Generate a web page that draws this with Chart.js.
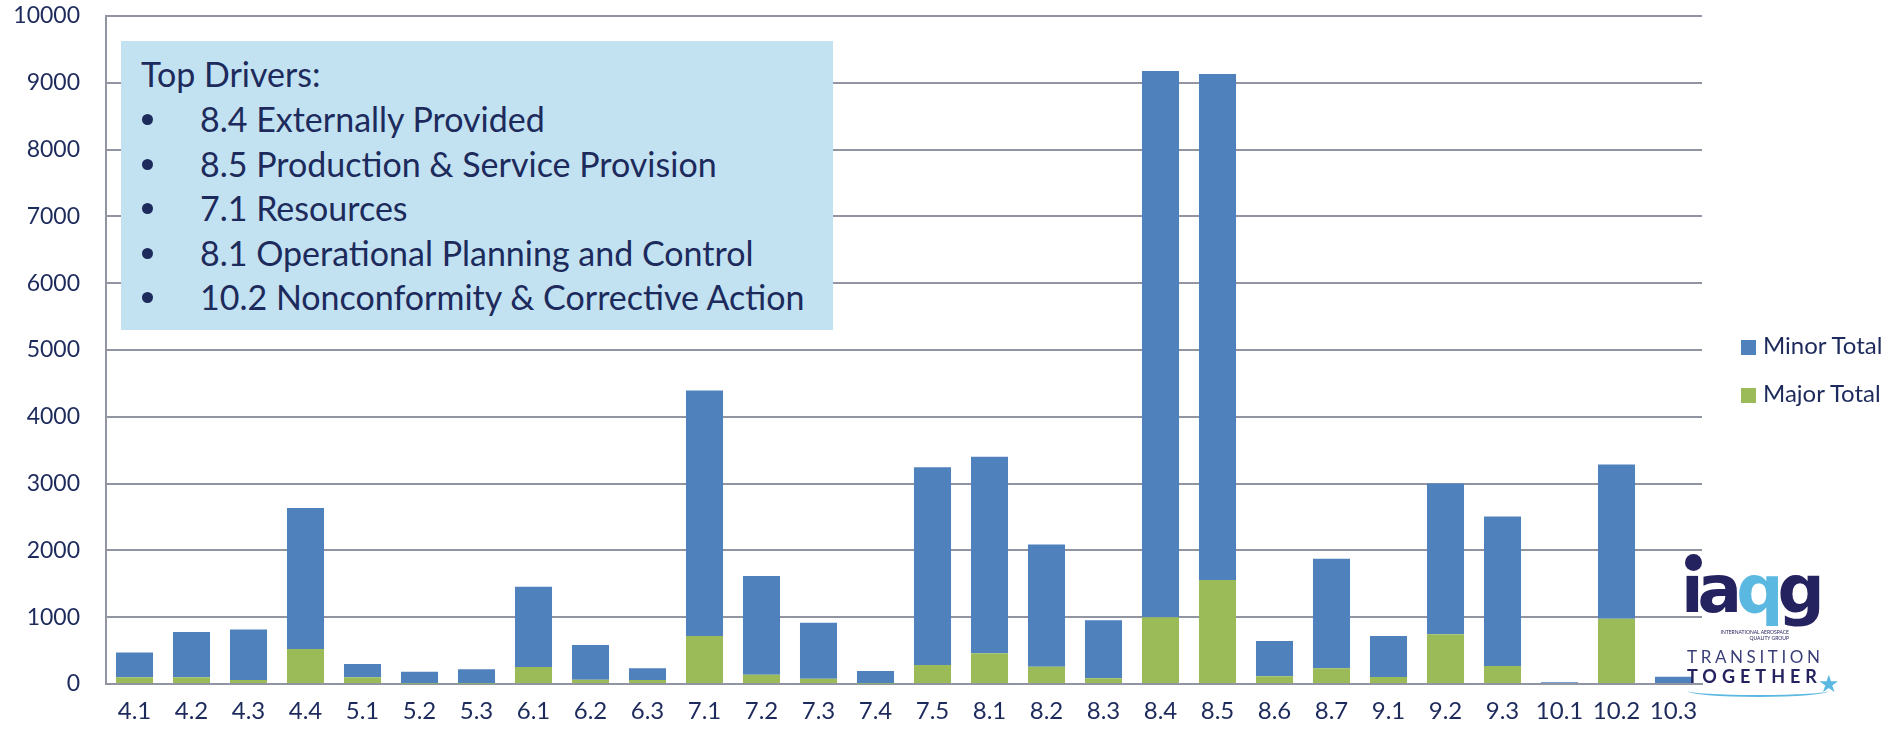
<!DOCTYPE html>
<html>
<head>
<meta charset="utf-8">
<script src="https://cdn.jsdelivr.net/npm/chart.js@4.4.1/dist/chart.umd.min.js"></script>
<style>
  html, body { margin: 0; padding: 0; background: #fff; }
  #wrap { position: relative; width: 1893px; height: 731px; overflow: hidden; font-family: Lato, 'Noto Sans', sans-serif; color: #1d2a5c; }
  #chart { position: absolute; left: 0; top: 0; }
  .drivers { position: absolute; left: 121px; top: 41px; width: 712px; height: 289px; background: #c2e2f1; }
  .drivers .title { position: absolute; left: 20px; top: 11px; height: 44.5px; line-height: 44.5px; font-size: 34px; white-space: nowrap; }
  .drivers ul { position: absolute; left: 0; top: 56px; margin: 0; padding: 0; list-style: none; }
  .drivers li { position: relative; height: 44.5px; line-height: 44.5px; font-size: 34px; padding-left: 79px; white-space: nowrap; }
  .drivers li::before { content: ''; position: absolute; left: 21px; top: 17px; width: 11px; height: 11px; border-radius: 50%; background: #1d2a5c; }
  .legend { position: absolute; left: 1741px; top: 328px; }
  .legend div { height: 48px; line-height: 34px; font-size: 24px; white-space: nowrap; }
  .legend span.box { display: inline-block; width: 15px; height: 15px; margin-right: 7px; vertical-align: -1px; }
  .logo { position: absolute; left: 1680px; top: 550px; width: 170px; height: 150px; }
  .logo .dot { position: absolute; left: 5px; top: 4px; width: 17px; height: 17px; border-radius: 50%; background: #25235f; }
  .logo .word { position: absolute; left: 1px; top: 2px; font-family: 'DejaVu Sans', sans-serif; font-weight: bold; font-size: 66px; letter-spacing: -6px; color: #25235f; line-height: 76px; }
  .logo .word .q { color: #5bb8e0; }
  .logo .small { position: absolute; left: 14px; top: 79px; font-size: 5px; color: #25235f; line-height: 6px; text-align: right; width: 95px; }
  .logo .t1 { position: absolute; left: 7px; top: 96px; font-size: 17px; letter-spacing: 3.6px; color: #3a3f78; }
  .logo .t2 { position: absolute; left: 7px; top: 115px; font-size: 18px; font-weight: bold; letter-spacing: 5px; color: #25235f; }
  .logo .swoosh { position: absolute; left: 8px; top: 135px; width: 140px; height: 10px; border-bottom: 2px solid #5bb8e0; border-radius: 0 0 60% 60%; }
  .logo .star { position: absolute; left: 138px; top: 118px; font-size: 24px; color: #5bb8e0; }
</style>
</head>
<body>
<div id="wrap">
  <canvas id="chart" width="1893" height="731"></canvas>
  <div class="drivers">
    <div class="title" id="driversTitle"></div>
    <ul id="driversList"></ul>
  </div>
  <div class="legend" id="legend"></div>
  <div class="logo">
    <div class="dot"></div>
    <div class="word"><span>&#x131;a</span><span class="q">q</span><span>g</span></div>
    <div class="small">INTERNATIONAL AEROSPACE<br>QUALITY GROUP</div>
    <div class="t1">TRANSITION</div>
    <div class="t2">TOGETHER</div>
    <div class="swoosh"></div>
    <div class="star">&#9733;</div>
  </div>
</div>
<script>
'use strict';

// Clause numbers along the x axis
const categories = ['4.1', '4.2', '4.3', '4.4', '5.1', '5.2', '5.3', '6.1', '6.2', '6.3',
  '7.1', '7.2', '7.3', '7.4', '7.5', '8.1', '8.2', '8.3', '8.4', '8.5', '8.6', '8.7',
  '9.1', '9.2', '9.3', '10.1', '10.2', '10.3'];

// Findings per clause
const majorTotals = [100, 100, 60, 525, 100, 5, 5, 255, 65, 60,
  720, 140, 80, 5, 285, 460, 260, 85, 1000, 1557, 115, 235,
  105, 745, 270, 0, 975, 0];
const minorTotals = [370, 680, 755, 2110, 200, 180, 215, 1200, 520, 175,
  3675, 1477, 838, 190, 2960, 2943, 1830, 868, 8177, 7575, 529, 1640,
  614, 2256, 2236, 25, 2310, 110];

const driversTitle = 'Top Drivers:';
const drivers = [
  '8.4 Externally Provided',
  '8.5 Production & Service Provision',
  '7.1 Resources',
  '8.1 Operational Planning and Control',
  '10.2 Nonconformity & Corrective Action',
];

const textColor = '#1d2a5c';
const gridColor = '#9194a1';
const minorColor = '#4f81bd';
const majorColor = '#9bbb59';

// Text box
document.getElementById('driversTitle').textContent = driversTitle;
const listEl = document.getElementById('driversList');
drivers.forEach(d => {
  const li = document.createElement('li');
  li.textContent = d;
  listEl.appendChild(li);
});

Chart.defaults.font.family = "Lato, 'Noto Sans', sans-serif";

const ctx = document.getElementById('chart').getContext('2d');
const myChart = new Chart(ctx, {
  type: 'bar',
  data: {
    labels: categories,
    datasets: [
      // major first so it sits at the bottom of the stack
      {
        label: 'Major Total',
        data: majorTotals,
        backgroundColor: majorColor,
        categoryPercentage: 1,
        barPercentage: 0.65,
      },
      {
        label: 'Minor Total',
        data: minorTotals,
        backgroundColor: minorColor,
        categoryPercentage: 1,
        barPercentage: 0.65,
      },
    ],
  },
  options: {
    responsive: false,
    animation: false,
    devicePixelRatio: 1,
    layout: { padding: { left: 0, right: 191, top: 16, bottom: 0 } },
    plugins: {
      legend: { display: false },
      tooltip: { enabled: false },
    },
    scales: {
      x: {
        stacked: true,
        grid: { display: false, drawTicks: false },
        border: { color: gridColor, width: 2 },
        ticks: { color: textColor, font: { size: 24 }, padding: 13, maxRotation: 0, autoSkip: false },
        afterFit: s => { s.height = 47; },
      },
      y: {
        stacked: true,
        min: 0,
        max: 10000,
        grid: { color: gridColor, lineWidth: 2, drawTicks: false },
        border: { color: gridColor, width: 2 },
        ticks: { stepSize: 1000, color: textColor, font: { size: 23 }, padding: 26, callback: v => String(v) },
        afterFit: s => {
          s.width = 106;
          // tick padding should not push the plot down
          s.paddingTop = 0;
          s.paddingBottom = 0;
        },
      },
    },
  },
});

// Legend on the right, Minor listed first
const legendEl = document.getElementById('legend');
myChart.data.datasets.slice().reverse().forEach(ds => {
  const row = document.createElement('div');
  const box = document.createElement('span');
  box.className = 'box';
  box.style.background = ds.backgroundColor;
  row.appendChild(box);
  row.appendChild(document.createTextNode(ds.label));
  legendEl.appendChild(row);
});
</script>
</body>
</html>
